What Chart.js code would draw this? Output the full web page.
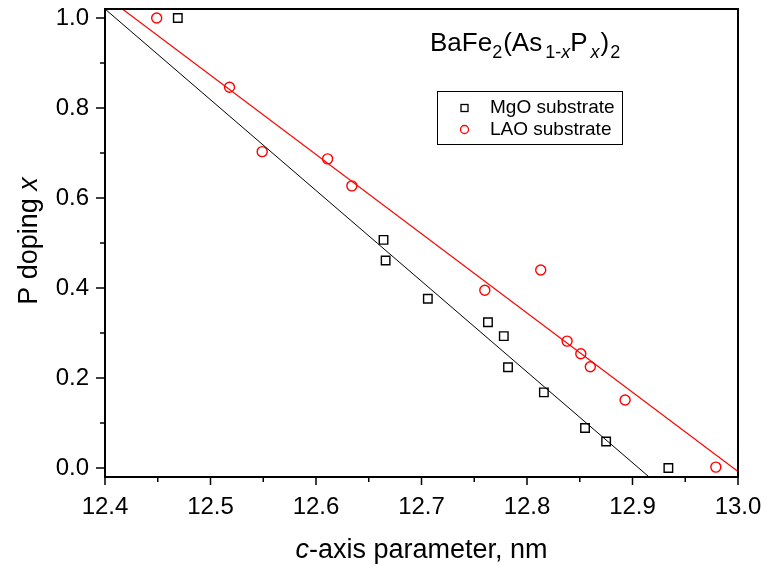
<!DOCTYPE html>
<html>
<head>
<meta charset="utf-8">
<title>P doping vs c-axis parameter</title>
<script src="https://cdn.jsdelivr.net/npm/chart.js@4.4.1/dist/chart.umd.min.js"></script>
<style>
    html, body { margin: 0; padding: 0; background: #fff; }
    #wrap { width: 768px; height: 566px; }
</style>
</head>
<body>
<div id="wrap"><canvas id="dopingChart" width="768" height="566"></canvas></div>
<script>
// c-axis parameter (nm) and P doping x, films on MgO
const mgoC = [12.469, 12.664, 12.666, 12.706, 12.763, 12.778, 12.782, 12.816, 12.855, 12.875, 12.934];
const mgoX = [1.000, 0.507, 0.461, 0.376, 0.324, 0.293, 0.224, 0.168, 0.089, 0.059, 0.000];

// films on LAO
const laoC = [12.449, 12.518, 12.549, 12.611, 12.634, 12.760, 12.813, 12.838, 12.851, 12.860, 12.893, 12.979];
const laoX = [1.000, 0.846, 0.703, 0.687, 0.627, 0.395, 0.440, 0.282, 0.254, 0.225, 0.151, 0.002];

// linear fits (end points)
const mgoFitC = [12.4, 12.95];
const mgoFitX = [1.02, -0.089];
const laoFitC = [12.4, 13.0];
const laoFitX = [1.049, -0.008];

// axis ticks
const xTicks = [12.4, 12.5, 12.6, 12.7, 12.8, 12.9, 13.0];
const xMinor = [12.45, 12.55, 12.65, 12.75, 12.85, 12.95];
const yTicks = [0.0, 0.2, 0.4, 0.6, 0.8, 1.0];
const yMinor = [0.1, 0.3, 0.5, 0.7, 0.9];

const FONT = "'Liberation Sans', Arial, sans-serif";

function toPoints(xs, ys) {
    return xs.map((v, i) => ({ x: v, y: ys[i] }));
}

// draw a run of text pieces (plain / italic / subscript) starting at x
function textRuns(ctx, runs, x, y, measureOnly) {
    let cx = x;
    runs.forEach(r => {
        ctx.font = (r.italic ? 'italic ' : '') + r.size + 'px ' + FONT;
        if (!measureOnly) ctx.fillText(r.text, cx, y + (r.dy || 0));
        cx += ctx.measureText(r.text).width + (r.gap || 0);
    });
    return cx - x;
}

// keep the plot box fixed: no extra room for overhanging tick labels
function noOverhang(s) {
    s.paddingTop = 0;
    s.paddingBottom = 0;
    s.paddingLeft = 0;
    s.paddingRight = 0;
}

const decorations = {
    id: 'decorations',
    afterDatasetsDraw(chart) {
        const ctx = chart.ctx;
        const a = chart.chartArea;
        const xs = chart.scales.x;
        const ys = chart.scales.y;
        ctx.save();

        // frame
        ctx.strokeStyle = '#000';
        ctx.lineWidth = 2;
        ctx.strokeRect(a.left, a.top, a.right - a.left, a.bottom - a.top);

        // tick marks, outward on bottom and left
        ctx.lineWidth = 1.5;
        ctx.beginPath();
        xTicks.forEach(v => {
            const p = xs.getPixelForValue(v);
            ctx.moveTo(p, a.bottom); ctx.lineTo(p, a.bottom + 8);
        });
        xMinor.forEach(v => {
            const p = xs.getPixelForValue(v);
            ctx.moveTo(p, a.bottom); ctx.lineTo(p, a.bottom + 5);
        });
        yTicks.forEach(v => {
            const p = ys.getPixelForValue(v);
            ctx.moveTo(a.left, p); ctx.lineTo(a.left - 9, p);
        });
        yMinor.forEach(v => {
            const p = ys.getPixelForValue(v);
            ctx.moveTo(a.left, p); ctx.lineTo(a.left - 5, p);
        });
        ctx.stroke();

        ctx.fillStyle = '#000';
        ctx.textBaseline = 'alphabetic';
        ctx.textAlign = 'left';

        // x axis title
        const xTitle = [
            { text: 'c', size: 27, italic: true },
            { text: '-axis parameter, nm', size: 27 }
        ];
        const wx = textRuns(ctx, xTitle, 0, 0, true);
        textRuns(ctx, xTitle, (a.left + a.right) / 2 - wx / 2, 558);

        // y axis title
        const yTitle = [
            { text: 'P doping ', size: 27 },
            { text: 'x', size: 27, italic: true }
        ];
        const wy = textRuns(ctx, yTitle, 0, 0, true);
        ctx.save();
        ctx.translate(37, 241);
        ctx.rotate(-Math.PI / 2);
        textRuns(ctx, yTitle, -wy / 2, 0);
        ctx.restore();

        // compound formula
        textRuns(ctx, [
            { text: 'BaFe', size: 26 },
            { text: '2', size: 18, dy: 7, gap: 1 },
            { text: '(As', size: 26, gap: 3 },
            { text: '1-', size: 18, dy: 7 },
            { text: 'x', size: 18, dy: 7, italic: true },
            { text: 'P', size: 26, gap: 3 },
            { text: 'x', size: 18, dy: 7, italic: true, gap: 1 },
            { text: ')', size: 26, gap: 1 },
            { text: '2', size: 18, dy: 7 }
        ], 430, 51);

        // legend box
        ctx.lineWidth = 1;
        ctx.strokeRect(437.5, 91.5, 185, 53);
        ctx.lineWidth = 1.3;
        ctx.strokeStyle = '#000';
        ctx.strokeRect(461, 104.5, 7, 7);
        ctx.strokeStyle = '#ff0000';
        ctx.beginPath();
        ctx.arc(464.5, 129.5, 4, 0, Math.PI * 2);
        ctx.stroke();
        ctx.fillStyle = '#000';
        ctx.font = '19px ' + FONT;
        ctx.fillText('MgO substrate', 490, 113);
        ctx.fillText('LAO substrate', 490, 135);

        ctx.restore();
    }
};

new Chart(document.getElementById('dopingChart').getContext('2d'), {
    type: 'scatter',
    data: {
        datasets: [{
            label: 'MgO fit',
            data: toPoints(mgoFitC, mgoFitX),
            showLine: true,
            borderColor: '#000',
            borderWidth: 1,
            pointRadius: 0
        }, {
            label: 'LAO fit',
            data: toPoints(laoFitC, laoFitX),
            showLine: true,
            borderColor: '#ff0000',
            borderWidth: 1.2,
            pointRadius: 0
        }, {
            label: 'MgO substrate',
            data: toPoints(mgoC, mgoX),
            pointStyle: 'rect',
            pointRadius: 6,
            borderColor: '#000',
            backgroundColor: 'rgba(0,0,0,0)',
            borderWidth: 1.4
        }, {
            label: 'LAO substrate',
            data: toPoints(laoC, laoX),
            pointStyle: 'circle',
            pointRadius: 5,
            borderColor: '#ff0000',
            backgroundColor: 'rgba(0,0,0,0)',
            borderWidth: 1.4
        }]
    },
    options: {
        responsive: false,
        animation: false,
        events: [],
        layout: { padding: { top: 9, right: 30, left: 0, bottom: 0 } },
        plugins: {
            legend: { display: false },
            tooltip: { enabled: false }
        },
        scales: {
            x: {
                type: 'linear',
                min: 12.4,
                max: 13.0,
                grid: { display: false, drawTicks: false },
                border: { display: false },
                afterBuildTicks: s => { s.ticks = xTicks.map(v => ({ value: v })); },
                afterFit: s => { s.height = 89; noOverhang(s); },
                ticks: {
                    color: '#000',
                    padding: 16,
                    maxRotation: 0,
                    font: { family: FONT, size: 24 },
                    callback: v => v.toFixed(1)
                }
            },
            y: {
                type: 'linear',
                min: -0.02,
                max: 1.02,
                grid: { display: false, drawTicks: false },
                border: { display: false },
                afterBuildTicks: s => { s.ticks = yTicks.map(v => ({ value: v })); },
                afterFit: s => { s.width = 105; noOverhang(s); },
                ticks: {
                    color: '#000',
                    padding: 16,
                    font: { family: FONT, size: 24 },
                    callback: v => v.toFixed(1)
                }
            }
        }
    },
    plugins: [decorations]
});
</script>
</body>
</html>
